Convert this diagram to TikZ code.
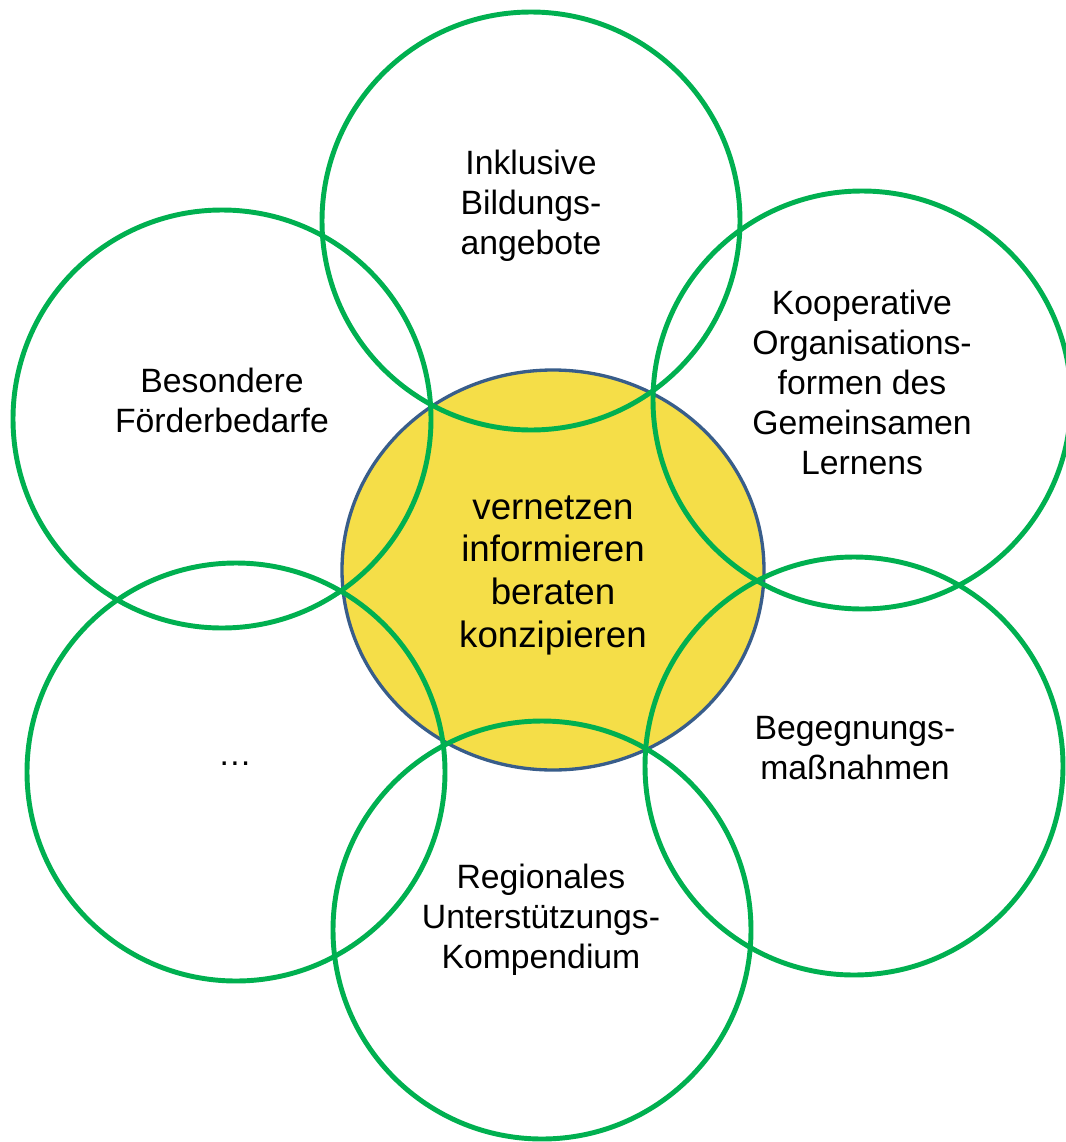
\documentclass[tikz,border=0pt]{standalone}
\usepackage{fontspec}
\setmainfont{Liberation Sans}
\usepackage{tikz}
\usetikzlibrary{shapes.geometric}

\definecolor{ringgreen}{RGB}{0,176,80}
\definecolor{hubyellow}{RGB}{245,222,72}
\definecolor{hubblue}{RGB}{56,93,138}

\begin{document}
\begin{tikzpicture}[x=0.75pt,y=-0.75pt]
  \tikzstyle{ring}=[circle,draw=ringgreen,line width=3.7pt,minimum size=313.5pt,inner sep=0pt]
  \tikzstyle{hub}=[ellipse,fill=hubyellow,draw=hubblue,line width=2.5pt,minimum width=316.5pt,minimum height=300pt,inner sep=0pt]
  \tikzstyle{ringtext}=[align=center,anchor=base,inner sep=0pt,font=\fontsize{25.3}{30}\selectfont]
  \tikzstyle{hubtext}=[align=center,anchor=base,inner sep=0pt,font=\fontsize{27.5}{32}\selectfont]

  \useasboundingbox (0,0) rectangle (1065,1142);

  \node[hub]  (H)  at (553,570) {};

  \node[ring] (T)  at (531,221) {};
  \node[ring] (TR) at (862,400) {};
  \node[ring] (BR) at (854,766) {};
  \node[ring] (B)  at (542,930) {};
  \node[ring] (BL) at (236,772) {};
  \node[ring] (TL) at (222,419) {};

  % base = baseline of the last line
  \node[hubtext]  (Ht)  at (553,647) {vernetzen\\informieren\\beraten\\konzipieren};
  \node[ringtext] (Tt)  at (531,254) {Inklusive\\Bildungs-\\angebote};
  \node[ringtext] (TRt) at (862,474) {Kooperative\\Organisations-\\formen des\\Gemeinsamen\\Lernens};
  \node[ringtext] (BRt) at (855,779) {Begegnungs-\\maßnahmen};
  \node[ringtext] (Bt)  at (541,968) {Regionales\\Unterstützungs-\\Kompendium};
  \node[ringtext] (BLt) at (235,765) {…};
  \node[ringtext] (TLt) at (222,432) {Besondere\\Förderbedarfe};
\end{tikzpicture}
\end{document}
